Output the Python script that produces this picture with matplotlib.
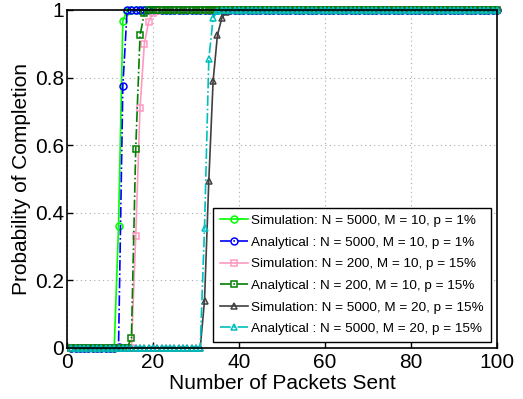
import numpy as np
import matplotlib
matplotlib.use("Agg")
import matplotlib.pyplot as plt

plt.rcParams['font.family'] = ['Liberation Sans', 'DejaVu Sans']

x = np.arange(1, 101)

def curve(points, n=100):
    # explicit values; 0 before first listed point, 1 after last
    keys = sorted(points)
    vals = []
    for xi in range(1, n + 1):
        if xi in points:
            vals.append(points[xi])
        elif xi < keys[0]:
            vals.append(0.0)
        else:
            vals.append(1.0)
    return np.array(vals)

sim_5000_10_1 = {11: 0.0, 12: 0.36, 13: 0.968, 14: 0.998}
ana_5000_10_1 = {12: 0.003, 13: 0.775, 14: 0.999}
sim_200_10_15 = {15: 0.0, 16: 0.33, 17: 0.71, 18: 0.90, 19: 0.965, 20: 0.99, 21: 0.997}
ana_200_10_15 = {14: 0.0, 15: 0.03, 16: 0.59, 17: 0.925, 18: 0.99, 19: 0.999}
sim_5000_20_15 = {31: 0.0, 32: 0.14, 33: 0.495, 34: 0.79, 35: 0.925, 36: 0.975, 37: 0.995}
ana_5000_20_15 = {31: 0.0, 32: 0.355, 33: 0.855, 34: 0.975, 35: 0.998}

labels = [
    "Simulation: N = 5000, M = 10, p = 1%",
    "Analytical : N = 5000, M = 10, p = 1%",
    "Simulation: N = 200, M = 10, p = 15%",
    "Analytical : N = 200, M = 10, p = 15%",
    "Simulation: N = 5000, M = 20, p = 15%",
    "Analytical : N = 5000, M = 20, p = 15%",
]
series = [sim_5000_10_1, ana_5000_10_1, sim_200_10_15, ana_200_10_15, sim_5000_20_15, ana_5000_20_15]
colors = ['#00ff00', '#0000ff', '#ff99c2', '#008000', '#404040', '#00bfbf']
styles = ['-', '-.', '-', '-.', '-', '-.']
markers = ['o', 'o', 's', 's', '^', '^']

fig = plt.figure(figsize=(5.23, 3.99), dpi=100)
ax = fig.add_axes([0.128, 0.128, 0.822, 0.847])

for s, c, ls, m, lab in zip(series, colors, styles, markers, labels):
    ax.plot(x, curve(s), linestyle=ls, color=c, marker=m, markersize=5,
            markerfacecolor='none', markeredgecolor=c, markeredgewidth=1.1,
            linewidth=1.2, label=lab, clip_on=False)

ax.set_xlim(0, 100)
ax.set_ylim(0, 1)
ax.set_xticks([0, 20, 40, 60, 80, 100])
ax.set_yticks([0, 0.2, 0.4, 0.6, 0.8, 1])
ax.set_yticklabels(['0', '0.2', '0.4', '0.6', '0.8', '1'])
ax.tick_params(direction='in', labelsize=15, length=4, width=1)
ax.tick_params(axis='x', pad=4)
ax.tick_params(axis='y', pad=2)
ax.grid(True, linestyle=(0, (1, 3)), color='#aaaaaa', linewidth=0.8)
for sp in ax.spines.values():
    sp.set_linewidth(1.2)
ax.set_xlabel('Number of Packets Sent', fontsize=15, labelpad=1)
ax.set_ylabel('Probability of Completion', fontsize=15, labelpad=3)

leg = ax.legend(loc='lower right', fontsize=9.7, handlelength=2.1, labelspacing=0.68,
                borderpad=0.5, handletextpad=0.25, borderaxespad=0.45, fancybox=False,
                framealpha=1, edgecolor='black')
leg.get_frame().set_linewidth(1.0)

fig.savefig('out.png', dpi=100)
